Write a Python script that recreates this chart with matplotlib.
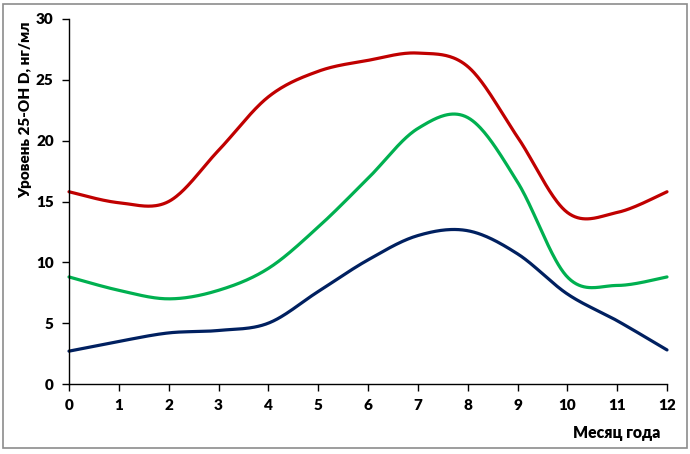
import numpy as np
import matplotlib
matplotlib.use("Agg")
import matplotlib.pyplot as plt
from matplotlib.patches import Rectangle

months = [0, 1, 2, 3, 4, 5, 6, 7, 8, 9, 10, 11, 12]
red_vals = [15.8, 14.9, 15.0, 19.2, 23.6, 25.7, 26.6, 27.2, 26.1, 20.3, 14.1, 14.1, 15.8]
green_vals = [8.8, 7.7, 7.0, 7.7, 9.5, 12.9, 16.9, 21.0, 21.9, 16.6, 8.8, 8.1, 8.8]
blue_vals = [2.7, 3.5, 4.2, 4.4, 5.0, 7.6, 10.2, 12.2, 12.6, 10.7, 7.4, 5.2, 2.8]
y_ticks = [0, 5, 10, 15, 20, 25, 30]
x_ticks = months
ylabel = "Уровень 25-OH D, нг/мл"
xlabel = "Месяц года"


def smooth(xs, ys, n=40):
    P = np.column_stack([xs, ys]).astype(float)
    m = len(P)
    out = []
    for i in range(m - 1):
        p0 = P[max(i - 1, 0)]
        p1 = P[i]
        p2 = P[i + 1]
        p3 = P[min(i + 2, m - 1)]
        c1 = p1 + (p2 - p0) / 6.0
        c2 = p2 - (p3 - p1) / 6.0
        t = np.linspace(0, 1, n)[:, None]
        seg = ((1 - t) ** 3) * p1 + 3 * ((1 - t) ** 2) * t * c1 + 3 * (1 - t) * t ** 2 * c2 + t ** 3 * p2
        out.append(seg if i == 0 else seg[1:])
    a = np.vstack(out)
    return a[:, 0], a[:, 1]


plt.rcParams['font.family'] = ['Lato', 'DejaVu Sans']
fig = plt.figure(figsize=(6.9, 4.54), dpi=100)
W, H = 690, 454
ax = fig.add_axes([69 / W, 1 - 384 / H, (667 - 69) / W, (384 - 19) / H])

for vals, col in [(red_vals, '#C00000'), (green_vals, '#00B050'), (blue_vals, '#002060')]:
    sx, sy = smooth(months, vals)
    ax.plot(sx, sy, color=col, lw=2.3, solid_capstyle='round', clip_on=False)

ax.set_xlim(0, 12)
ax.set_ylim(0, 30)
ax.set_xticks(x_ticks)
ax.set_yticks(y_ticks)
for s in ['top', 'right']:
    ax.spines[s].set_visible(False)
for s in ['left', 'bottom']:
    ax.spines[s].set_linewidth(1.0)
    ax.spines[s].set_color('black')
ax.tick_params(axis='both', direction='out', length=5, width=1, labelsize=11)
ax.tick_params(axis='x', pad=6)
ax.tick_params(axis='y', pad=6)
for lbl in ax.get_xticklabels() + ax.get_yticklabels():
    lbl.set_fontweight('heavy')

fig.text(26 / W, 1 - 110 / H, ylabel, rotation=90, ha='center', va='center',
         fontsize=11, fontweight='heavy')
fig.text(660 / W, 1 - 433 / H, xlabel, ha='right', va='center',
         fontsize=11.3, fontweight='heavy')

fig.patches.append(Rectangle((3 / W, 1 - 448 / H), (687 - 3) / W, (448 - 4) / H,
                             transform=fig.transFigure, fill=False,
                             edgecolor='#8c8c8c', lw=1.2))

fig.savefig('out.png', dpi=100)
